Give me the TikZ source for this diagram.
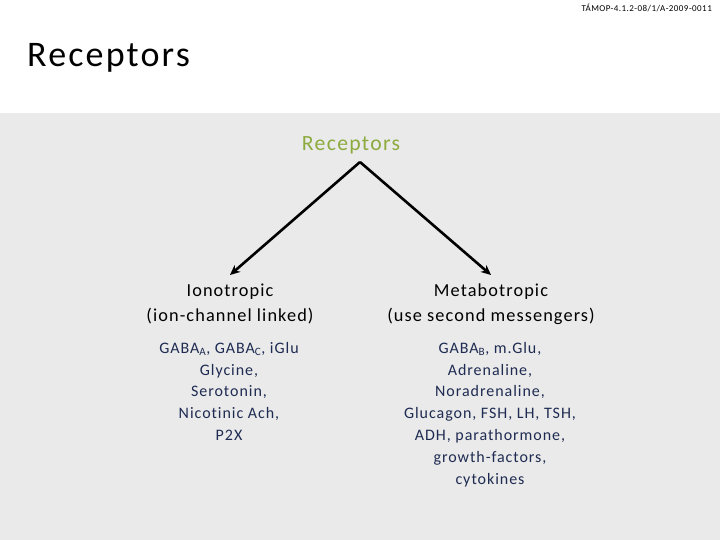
\documentclass[tikz,border=0pt]{standalone}
\usepackage{fontspec}
\setmainfont{Carlito}[LetterSpace=6,Ligatures=NoCommon]
\usetikzlibrary{arrows.meta}
\definecolor{bggray}{HTML}{E9EAE9}
\definecolor{recgreen}{HTML}{8DAA3E}
\definecolor{listblue}{HTML}{1F2B52}
\tikzset{
  conn/.style={line width=2.6pt,-{Stealth[length=10pt,width=9pt]}},
  headtext/.style={align=center,font=\fontsize{18.3}{25}\selectfont,text=black,inner sep=0pt},
  listtext/.style={align=center,font=\fontsize{16}{21.8}\selectfont,text=listblue,inner sep=0pt,anchor=north}
}
\begin{document}
\begin{tikzpicture}[x=1pt,y=-1pt]
\useasboundingbox (0,0) rectangle (720,540);
\fill[white] (0,0) rectangle (720,540);
\fill[bggray] (0,113) rectangle (720,540);
\node[anchor=north east,inner sep=0pt,font=\fontsize{9}{10}\selectfont\addfontfeatures{LetterSpace=5}] (proj) at (712,4) {TÁMOP-4.1.2-08/1/A-2009-0011};
\node[anchor=west,inner sep=0pt,font=\fontsize{36}{40}\selectfont] (title) at (27,58) {Receptors};
\node[inner sep=0pt,font=\fontsize{21.7}{26}\selectfont,text=recgreen] (root) at (351,145) {Receptors};
\coordinate (top) at (360,162);
\coordinate (lend) at (230,275);
\coordinate (rend) at (491,275);
\draw[conn] (top) -- (lend);
\draw[conn] (top) -- (rend);
\node[headtext,anchor=north] (iono) at (230,284) {Ionotropic\\(ion-channel linked)};
\node[headtext,anchor=north] (meta) at (491,284) {Metabotropic\\(use second messengers)};
\node[listtext] (ilist) at (229,342) {GABA\textsubscript{A}, GABA\textsubscript{C}, iGlu\\Glycine,\\Serotonin,\\Nicotinic Ach,\\P2X};
\node[listtext] (mlist) at (490,342) {GABA\textsubscript{B}, m.Glu,\\Adrenaline,\\Noradrenaline,\\Glucagon, FSH, LH, TSH,\\ADH, parathormone,\\growth-factors,\\cytokines};
\end{tikzpicture}
\end{document}
